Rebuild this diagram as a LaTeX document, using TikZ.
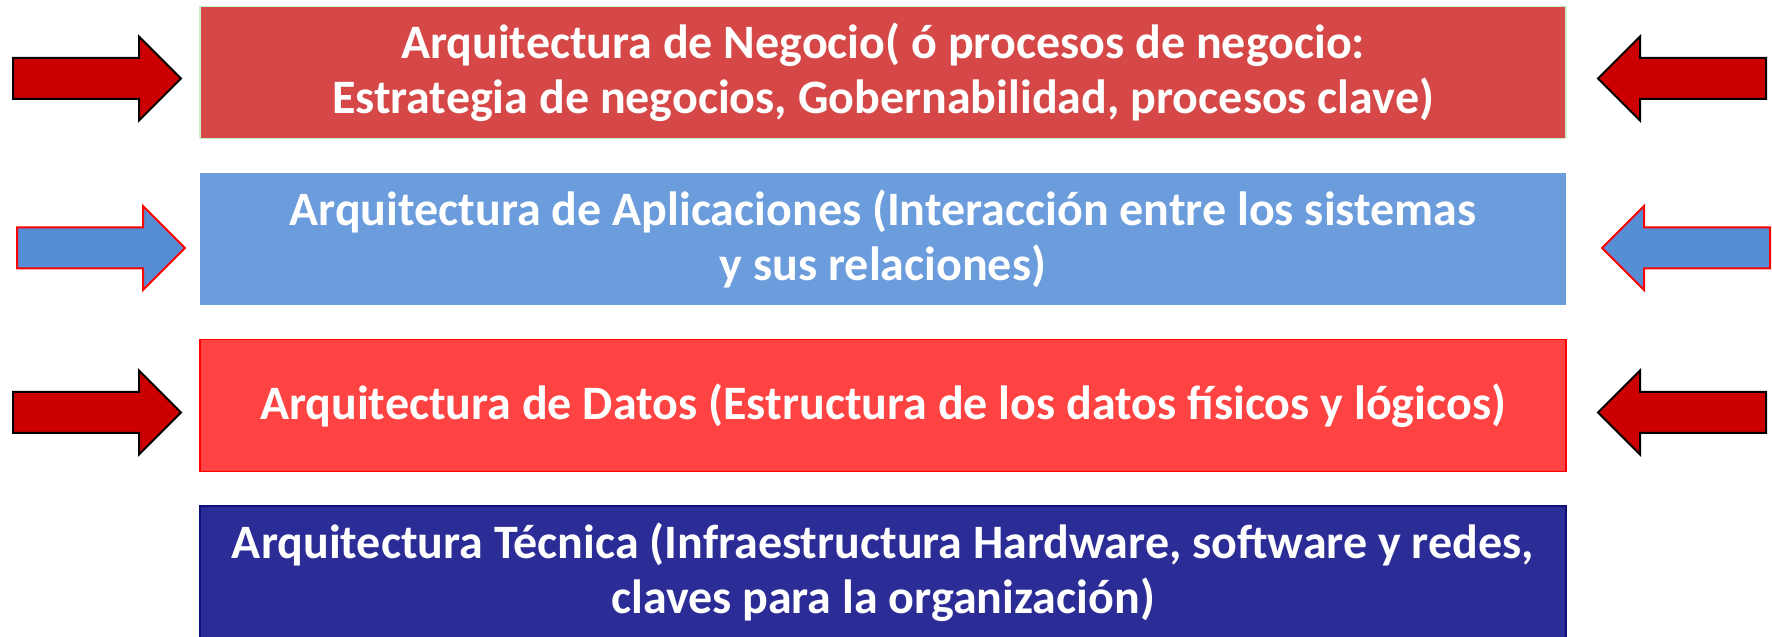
\documentclass[tikz,border=0pt]{standalone}
\usepackage{fontspec}
\setmainfont{Carlito}
\usetikzlibrary{positioning}

\definecolor{negociofill}{HTML}{D64848}
\definecolor{negocioedge}{HTML}{C8F0C8}
\definecolor{aplicfill}{HTML}{6B9CDC}
\definecolor{datosfill}{HTML}{FF4343}
\definecolor{tecnicafill}{HTML}{2C2C96}
\definecolor{tecnicaedge}{HTML}{10107A}
\definecolor{arrowred}{HTML}{CC0000}
\definecolor{arrowblue}{HTML}{558ED5}

\begin{document}
\begin{tikzpicture}[x=1pt, y=1pt,
    layer/.style={minimum width=1366pt, minimum height=132pt, inner sep=0pt, outer sep=0pt,
      align=center, text=white, line width=1.5pt,
      font=\fontsize{48}{55}\selectfont\bfseries},
    redarrow/.style={fill=arrowred, draw=black, line width=2pt, line join=miter},
    bluearrow/.style={fill=arrowblue, draw=red, line width=2pt, line join=miter}]
  \def\layersep{34.5pt}
  % arrow pointing right, tip at #1
  \def\arrowtoright#1#2{\draw[#2] (#1) -- ++(-42,42) -- ++(0,-21.5) -- ++(-126,0)
    -- ++(0,-41) -- ++(126,0) -- ++(0,-21.5) -- cycle;}
  % arrow pointing left, tip at #1
  \def\arrowtoleft#1#2{\draw[#2] (#1) -- ++(42,42) -- ++(0,-21.5) -- ++(126,0)
    -- ++(0,-41) -- ++(-126,0) -- ++(0,-21.5) -- cycle;}
  \coordinate (top left) at (200,630.5);

  \useasboundingbox (0,0) rectangle (1772,637);
  % Negocio
  \node [layer, fill=negociofill, draw=negocioedge, below right = 0pt and 0pt of top left, anchor=north west] (negocio)
    {Arquitectura de Negocio( ó procesos de negocio:\\Estrategia de negocios, Gobernabilidad, procesos clave)};
  % Aplicaciones
  \node [layer, fill=aplicfill, below = \layersep of negocio] (aplicaciones)
    {Arquitectura de Aplicaciones (Interacción entre los sistemas\\y sus relaciones)};
  % Datos
  \node [layer, fill=datosfill, draw=red, below = \layersep of aplicaciones] (datos)
    {Arquitectura de Datos (Estructura de los datos físicos y lógicos)};
  % Tecnica
  \node [layer, fill=tecnicafill, draw=tecnicaedge, below = \layersep of datos] (tecnica)
    {Arquitectura Técnica (Infraestructura Hardware, software y redes,\\claves para la organización)};

  % Arrows
  \coordinate (negocio in left) at ([xshift=-19pt, yshift=-6pt]negocio.west);
  \coordinate (negocio in right) at ([xshift=32pt, yshift=-6pt]negocio.east);
  \coordinate (aplicaciones in left) at ([xshift=-15pt, yshift=-9pt]aplicaciones.west);
  \coordinate (aplicaciones in right) at ([xshift=36pt, yshift=-9pt]aplicaciones.east);
  \coordinate (datos in left) at ([xshift=-19pt, yshift=-7pt]datos.west);
  \coordinate (datos in right) at ([xshift=32pt, yshift=-7pt]datos.east);
  \arrowtoright{negocio in left}{redarrow}
  \arrowtoleft{negocio in right}{redarrow}
  \arrowtoright{aplicaciones in left}{bluearrow}
  \arrowtoleft{aplicaciones in right}{bluearrow}
  \arrowtoright{datos in left}{redarrow}
  \arrowtoleft{datos in right}{redarrow}
\end{tikzpicture}
\end{document}
